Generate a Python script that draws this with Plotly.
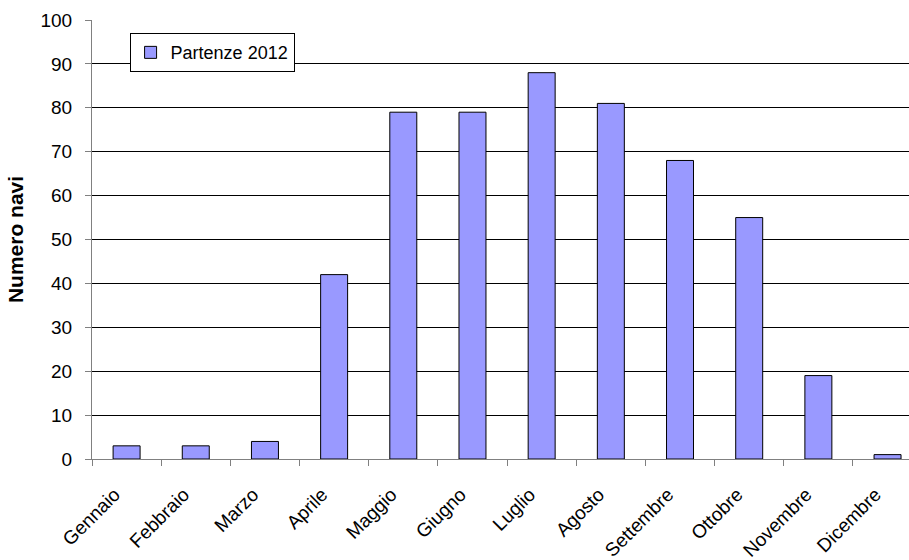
import plotly.graph_objects as go

months = ["Gennaio", "Febbraio", "Marzo", "Aprile", "Maggio", "Giugno",
          "Luglio", "Agosto", "Settembre", "Ottobre", "Novembre", "Dicembre"]
partenze_2012 = [3, 3, 4, 42, 79, 79, 88, 81, 68, 55, 19, 1]
y_ticks = [0, 10, 20, 30, 40, 50, 60, 70, 80, 90, 100]

FONT = "Liberation Sans, Arial, sans-serif"

fig = go.Figure()
fig.add_trace(go.Bar(
    x=months,
    y=partenze_2012,
    name="Partenze 2012",
    marker=dict(color="#9999FF", line=dict(color="#000000", width=1)),
))

fig.update_layout(
    width=909,
    height=560,
    margin=dict(l=92, r=0, t=20, b=101),
    paper_bgcolor="white",
    plot_bgcolor="white",
    bargap=0.61,
    font=dict(family=FONT, size=18, color="black"),
    showlegend=True,
    legend=dict(
        x=0.046, y=0.97, xanchor="left", yanchor="top",
        bgcolor="white", bordercolor="black", borderwidth=1,
        font=dict(family=FONT, size=18, color="black"),
        itemwidth=30, tracegroupgap=0,
    ),
)

fig.update_xaxes(
    type="category",
    range=[-0.5, 11.31],
    tickson="boundaries",
    ticks="outside",
    ticklen=6,
    tickcolor="#808080",
    tickangle=-45,
    ticklabelstandoff=16,
    ticklabelshift=-12,
    showline=True,
    linecolor="#808080",
    linewidth=1,
    showgrid=False,
    tickfont=dict(family=FONT, size=19),
)

fig.update_yaxes(
    range=[0, 100],
    tickvals=y_ticks,
    ticks="outside",
    ticklen=6,
    tickcolor="#808080",
    ticklabelstandoff=9,
    showline=True,
    linecolor="#808080",
    linewidth=1,
    showgrid=True,
    gridcolor="#000000",
    gridwidth=1,
    zeroline=False,
    tickfont=dict(family=FONT, size=19),
    title=dict(text="<b>Numero navi</b>", font=dict(family=FONT, size=21), standoff=11),
)

fig.write_html("out.html")
